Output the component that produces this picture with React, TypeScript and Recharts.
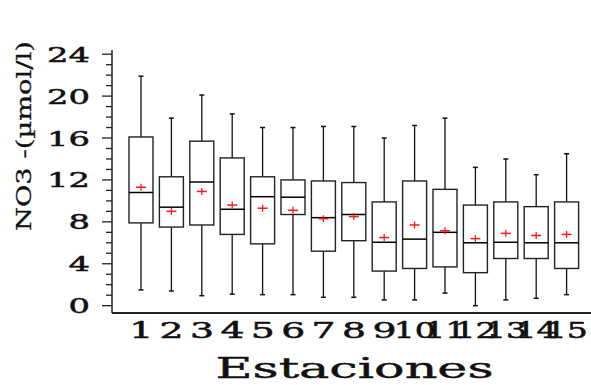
import { ComposedChart, Bar, XAxis, YAxis } from 'recharts';

// NO3 box plots per sampling station
const stations = ['1', '2', '3', '4', '5', '6', '7', '8', '9', '10', '11', '12', '13', '14', '15'];
const whiskerLow = [1.5, 1.4, 0.95, 1.1, 1.05, 1.05, 0.8, 0.8, 0.55, 0.55, 1.2, 0.0, 0.55, 0.7, 1.05];
const q1 = [7.9, 7.5, 7.7, 6.8, 5.9, 8.7, 5.2, 6.2, 3.3, 3.55, 3.7, 3.15, 4.5, 4.5, 3.55];
const medians = [10.8, 9.4, 11.8, 9.2, 10.4, 10.35, 8.4, 8.7, 6.05, 6.35, 7.0, 6.0, 6.05, 6.0, 6.0];
const q3 = [16.1, 12.3, 15.7, 14.1, 12.3, 12.0, 11.9, 11.75, 9.9, 11.9, 11.1, 9.6, 9.9, 9.45, 9.9];
const whiskerHigh = [21.9, 17.9, 20.1, 18.3, 17.0, 17.0, 17.1, 17.1, 16.0, 17.2, 17.9, 13.2, 14.0, 12.5, 14.5];
const means = [11.3, 9.0, 10.9, 9.6, 9.3, 9.1, 8.3, 8.5, 6.5, 7.7, 7.15, 6.4, 6.9, 6.7, 6.8];

const yTicks = Array.from({ length: 25 }, (_, i) => i);

const data = stations.map((s, i) => ({
  station: s,
  range: [whiskerLow[i], whiskerHigh[i]],
  low: whiskerLow[i],
  q1: q1[i],
  median: medians[i],
  q3: q3[i],
  high: whiskerHigh[i],
  mean: means[i],
}));

const FONT = '"DejaVu Serif", "Liberation Serif", serif';

function BoxShape(props: any) {
  const { x, y, width, height, payload } = props;
  const { low, high } = payload;
  // the bar spans low..high, so map the other stats along the same scale
  const toY = (v: number) => y + (height * (high - v)) / (high - low);
  const cx = x + width / 2;
  const yQ1 = toY(payload.q1);
  const yQ3 = toY(payload.q3);
  const yMed = toY(payload.median);
  const yMean = toY(payload.mean);
  const yHi = toY(high);
  const yLo = toY(low);
  return (
    <g>
      <line x1={cx} x2={cx} y1={yHi} y2={yQ3} stroke="#111" strokeWidth={1.3} />
      <line x1={cx} x2={cx} y1={yQ1} y2={yLo} stroke="#111" strokeWidth={1.3} />
      <line x1={cx - 2.5} x2={cx + 2.5} y1={yHi} y2={yHi} stroke="#111" strokeWidth={1.5} />
      <line x1={cx - 2.5} x2={cx + 2.5} y1={yLo} y2={yLo} stroke="#111" strokeWidth={1.5} />
      <rect x={x} y={yQ3} width={width} height={yQ1 - yQ3} fill="#fff" stroke="#222" strokeWidth={1.4} />
      <line x1={x} x2={x + width} y1={yMed} y2={yMed} stroke="#000" strokeWidth={1.5} />
      <line x1={cx - 5} x2={cx + 5} y1={yMean} y2={yMean} stroke="#ff1a1a" strokeWidth={1.5} />
      <line x1={cx} x2={cx} y1={yMean - 3.5} y2={yMean + 3.5} stroke="#ff1a1a" strokeWidth={1.3} />
    </g>
  );
}

function YTick(props: any) {
  const { x, y, payload } = props;
  const major = payload.value % 4 === 0;
  const label = String(payload.value);
  return (
    <g>
      <line x1={x - (major ? 10 : 6)} x2={x} y1={y} y2={y} stroke="#222" strokeWidth={1.3} />
      {major && (
        <text
          x={x - 22}
          y={y + 7.5}
          textAnchor="end"
          fontFamily={FONT}
          fontSize={21}
          fill="#111"
          stroke="#111"
          strokeWidth={0.5}
          textLength={21.5 * label.length}
          lengthAdjust="spacingAndGlyphs"
        >
          {label}
        </text>
      )}
    </g>
  );
}

function XTick(props: any) {
  const { x, y, payload } = props;
  const label = String(payload.value);
  return (
    <text
      x={x}
      y={y + 25}
      textAnchor="middle"
      fontFamily={FONT}
      fontSize={22}
      fill="#111"
      stroke="#111"
      strokeWidth={0.5}
      textLength={label.length === 1 ? 24 : 42}
      lengthAdjust="spacingAndGlyphs"
    >
      {label}
    </text>
  );
}

function XTitle(props: any) {
  const vb = props.viewBox || { x: 112, y: 313, width: 479 };
  return (
    <text
      x={vb.x + vb.width / 2 + 3}
      y={vb.y + 65}
      textAnchor="middle"
      fontFamily={FONT}
      fontSize={28}
      fill="#111"
      stroke="#111"
      strokeWidth={0.4}
      textLength={278}
      lengthAdjust="spacingAndGlyphs"
    >
      Estaciones
    </text>
  );
}

function YTitle() {
  return (
    <text
      transform="translate(31, 231) rotate(-90)"
      x={0}
      y={0}
      textAnchor="start"
      fontFamily={FONT}
      fontSize={21}
      fill="#111"
      stroke="#111"
      strokeWidth={0.3}
      textLength={190}
      lengthAdjust="spacingAndGlyphs"
    >
      NO3 -(µmol/l)
    </text>
  );
}

export default function App() {
  return (
    <div style={{ width: 591, height: 385, background: '#fff' }}>
      <style>{'body{margin:0}'}</style>
      <ComposedChart width={591} height={385} data={data} margin={{ top: 50, right: 0, bottom: 0, left: 0 }}>
        <XAxis
          dataKey="station"
          type="category"
          height={72}
          padding={{ left: 14, right: 9 }}
          tickSize={0}
          tickMargin={0}
          tickLine={false}
          interval={0}
          tick={<XTick />}
          axisLine={{ stroke: '#222', strokeWidth: 2 }}
          label={<XTitle />}
        />
        <YAxis
          type="number"
          width={112}
          domain={[-0.7, 24.4]}
          allowDataOverflow
          ticks={yTicks}
          interval={0}
          tickSize={0}
          tickMargin={0}
          tickLine={false}
          tick={<YTick />}
          axisLine={{ stroke: '#222', strokeWidth: 1.5 }}
          label={<YTitle />}
        />
        <Bar dataKey="range" barSize={24} shape={<BoxShape />} isAnimationActive={false} />
      </ComposedChart>
    </div>
  );
}
